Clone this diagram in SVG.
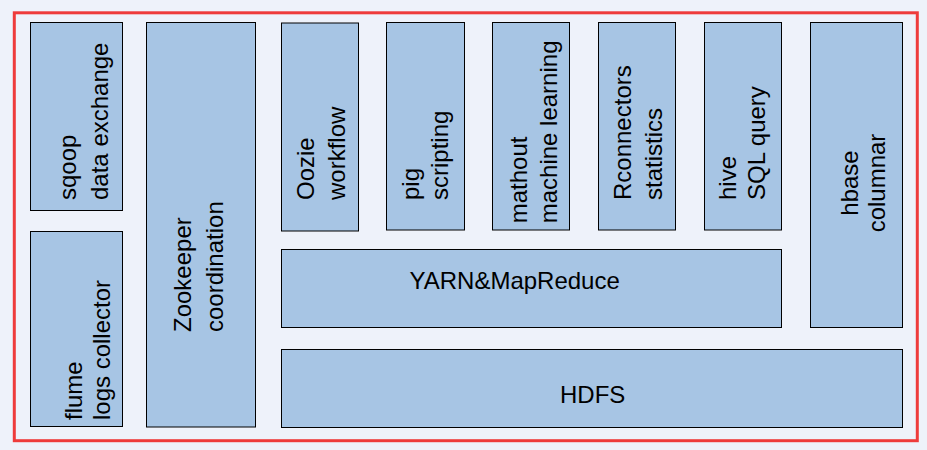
<svg xmlns="http://www.w3.org/2000/svg" width="927" height="450" viewBox="0 0 927 450">
<style>
.box{fill:#A7C5E4;stroke:#000;stroke-width:1}
.t{font-family:"Liberation Sans",Arial,sans-serif;font-size:24px;fill:#000}
</style>
<rect x="0" y="0" width="927" height="450" fill="#EEF2FA"/>
<rect x="14.3" y="12.8" width="903" height="427.9" fill="none" stroke="#EE3B3B" stroke-width="3"/>
<g id="sqoop">
<rect class="box" x="30.5" y="22.5" width="92" height="188"/>
<text class="t" transform="translate(75.7,200) rotate(-90)">sqoop</text>
<text class="t" transform="translate(108.3,200) rotate(-90)">data exchange</text>
</g>
<g id="flume">
<rect class="box" x="30.5" y="231.5" width="92" height="195"/>
<text class="t" transform="translate(81.5,420) rotate(-90)">flume</text>
<text class="t" transform="translate(110,420) rotate(-90)">logs collector</text>
</g>
<g id="zookeeper">
<rect class="box" x="146.5" y="22.5" width="109" height="404.5"/>
<text class="t" transform="translate(190.5,332) rotate(-90)">Zookeeper</text>
<text class="t" transform="translate(223.3,332) rotate(-90)">coordination</text>
</g>
<g id="oozie">
<rect class="box" x="281.5" y="23" width="77" height="208"/>
<text class="t" transform="translate(313.5,200) rotate(-90)">Oozie</text>
<text class="t" transform="translate(345,200) rotate(-90)">workflow</text>
</g>
<g id="pig">
<rect class="box" x="386.5" y="22.5" width="78" height="207.5"/>
<text class="t" transform="translate(419,200) rotate(-90)">pig</text>
<text class="t" transform="translate(448,200) rotate(-90)">scripting</text>
</g>
<g id="mathout">
<rect class="box" x="492.5" y="22.5" width="77" height="207.5"/>
<text class="t" transform="translate(527,223.3) rotate(-90)">mathout</text>
<text class="t" transform="translate(557,223.3) rotate(-90)">machine learning</text>
</g>
<g id="rconnectors">
<rect class="box" x="598.5" y="22.5" width="77" height="207.5"/>
<text class="t" transform="translate(631,200) rotate(-90)">Rconnectors</text>
<text class="t" transform="translate(661.5,200) rotate(-90)">statistics</text>
</g>
<g id="hive">
<rect class="box" x="704.5" y="22.5" width="77" height="207.5"/>
<text class="t" transform="translate(735.5,200) rotate(-90)">hive</text>
<text class="t" transform="translate(765.3,200) rotate(-90)">SQL query</text>
</g>
<g id="hbase">
<rect class="box" x="810.5" y="22.5" width="92" height="305"/>
<text class="t" text-anchor="middle" transform="translate(858,183) rotate(-90)">hbase</text>
<text class="t" text-anchor="middle" transform="translate(885,183) rotate(-90)">columnar</text>
</g>
<g id="yarn">
<rect class="box" x="281.5" y="249.5" width="500" height="78"/>
<text class="t" x="409.5" y="289.3">YARN&amp;MapReduce</text>
</g>
<g id="hdfs">
<rect class="box" x="281.5" y="349.5" width="621" height="78"/>
<text class="t" x="560" y="403.3">HDFS</text>
</g>
<g id="connectors"/>
</svg>
